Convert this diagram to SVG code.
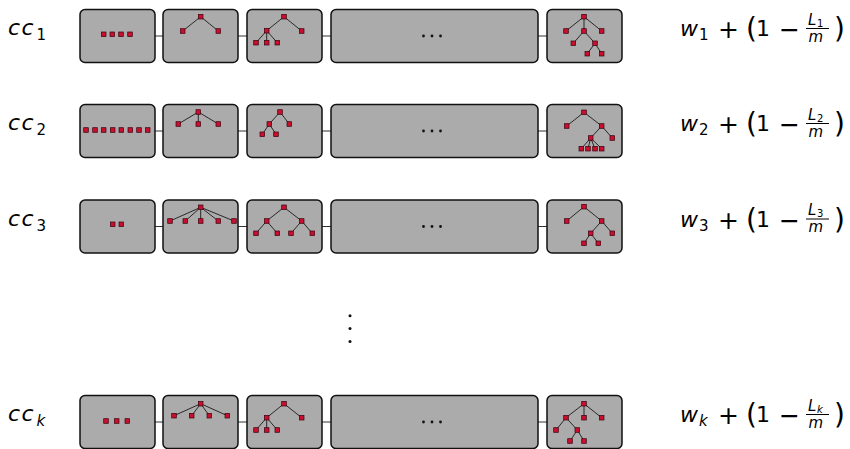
<svg xmlns="http://www.w3.org/2000/svg" xmlns:xlink="http://www.w3.org/1999/xlink" width="850" height="449" viewBox="0 0 850 449">
<style>
.box{fill:#ababab;stroke:#111;stroke-width:1.5}
.con{stroke:#333;stroke-width:1;fill:none}
.tr{stroke:#1a1a1a;stroke-width:0.9;fill:none}
.dot{fill:#111}
.bar{stroke:#000;stroke-width:1}
text{font-family:"DejaVu Sans",sans-serif;fill:#000;font-size:22px}
.it{font-style:italic}
.cc{font-style:italic;letter-spacing:1.5px}
.sb{font-size:15px;font-style:normal;letter-spacing:0}
.op{font-size:25px;font-style:normal}
.pr{font-size:28px;font-style:normal}
.rm{font-style:normal}
.fr{font-size:15px;font-style:italic}
.fs{font-size:10px;font-style:normal}
.fsi{font-size:10px;font-style:italic}
</style>
<defs>
<rect id="nd" x="-2.3" y="-2.3" width="4.6" height="4.6" fill="#c8102e" stroke="#3a0010" stroke-width="0.7"/>
<g id="ell"><circle class="dot" cx="-8.5" cy="0" r="1.4"/><circle class="dot" cx="0" cy="0" r="1.4"/><circle class="dot" cx="8.5" cy="0" r="1.4"/></g>
</defs>

<g id="connectors">
<path class="con" d="M155,36H163M238,36H247M322,36H331M538,36H547"/>
<path class="con" d="M155,131H163M238,131H247M322,131H331M538,131H547"/>
<path class="con" d="M155,226.5H163M238,226.5H247M322,226.5H331M538,226.5H547"/>
<path class="con" d="M155,422H163M238,422H247M322,422H331M538,422H547"/>
</g>

<!-- Row 1 -->
<g id="label1"><text class="cc" x="8" y="35">cc<tspan class="sb" x="36.5" y="40">1</tspan></text></g>
<g id="r1b1"><rect class="box" x="80" y="9.5" width="75" height="53" rx="5"/>
<use xlink:href="#nd" x="103.7" y="34.3"/><use xlink:href="#nd" x="112.3" y="34.3"/><use xlink:href="#nd" x="121" y="34.3"/><use xlink:href="#nd" x="130" y="34.3"/></g>
<g id="r1b2"><rect class="box" x="163" y="9.5" width="75" height="53" rx="5"/>
<path class="tr" d="M200.7,16.7L182.7,31M200.7,16.7L218.3,31"/>
<use xlink:href="#nd" x="200.7" y="16.7"/><use xlink:href="#nd" x="182.7" y="31"/><use xlink:href="#nd" x="218.3" y="31"/></g>
<g id="r1b3"><rect class="box" x="247" y="9.5" width="75" height="53" rx="5"/>
<path class="tr" d="M284,16.7L266.7,30.7M284,16.7L301.7,31M266.7,30.7L256,42.7M266.7,30.7L266.7,42.7M266.7,30.7L277.3,42.7"/>
<use xlink:href="#nd" x="284" y="16.7"/><use xlink:href="#nd" x="266.7" y="30.7"/><use xlink:href="#nd" x="301.7" y="31"/><use xlink:href="#nd" x="256" y="42.7"/><use xlink:href="#nd" x="266.7" y="42.7"/><use xlink:href="#nd" x="277.3" y="42.7"/></g>
<g id="r1b4"><rect class="box" x="331" y="9.5" width="207" height="53" rx="5"/><use xlink:href="#ell" x="432" y="36"/></g>
<g id="r1b5"><rect class="box" x="547" y="9.5" width="75" height="53" rx="5"/>
<path class="tr" d="M584,16.7L566,31M584,16.7L584,31M584,16.7L601.7,31M584,31L573.3,43.3M584,31L595,43.3M595,43.3L587.3,53.7M595,43.3L601.7,53.7"/>
<use xlink:href="#nd" x="584" y="16.7"/><use xlink:href="#nd" x="566" y="31"/><use xlink:href="#nd" x="584" y="31"/><use xlink:href="#nd" x="601.7" y="31"/><use xlink:href="#nd" x="573.3" y="43.3"/><use xlink:href="#nd" x="595" y="43.3"/><use xlink:href="#nd" x="587.3" y="53.7"/><use xlink:href="#nd" x="601.7" y="53.7"/></g>
<g id="formula1">
<text class="it" x="680" y="36">w<tspan class="sb" x="699" y="40">1</tspan><tspan class="op" x="718" y="38">+</tspan><tspan class="pr" x="746" y="38">(</tspan><tspan class="rm" x="756" y="36">1</tspan><tspan class="op" x="779" y="38">−</tspan><tspan class="fr" x="808" y="24.5">L</tspan><tspan class="fs" x="817" y="26.5">1</tspan><tspan class="fr" x="808.5" y="41.5">m</tspan><tspan class="pr" x="834" y="38">)</tspan></text>
<line class="bar" x1="806" y1="28.5" x2="829" y2="28.5"/>
</g>

<!-- Row 2 -->
<g id="label2"><text class="cc" x="8" y="130">cc<tspan class="sb" x="36.5" y="135">2</tspan></text></g>
<g id="r2b1"><rect class="box" x="80" y="104.5" width="75" height="53" rx="5"/>
<use xlink:href="#nd" x="86" y="130"/><use xlink:href="#nd" x="95" y="130"/><use xlink:href="#nd" x="103.7" y="130"/><use xlink:href="#nd" x="112.7" y="130"/><use xlink:href="#nd" x="121.3" y="130"/><use xlink:href="#nd" x="130.3" y="130"/><use xlink:href="#nd" x="139" y="130"/><use xlink:href="#nd" x="147.7" y="130"/></g>
<g id="r2b2"><rect class="box" x="163" y="104.5" width="75" height="53" rx="5"/>
<path class="tr" d="M198.3,112L178.3,124M198.3,112L198.3,124M198.3,112L218.3,124"/>
<use xlink:href="#nd" x="198.3" y="112"/><use xlink:href="#nd" x="178.3" y="124"/><use xlink:href="#nd" x="198.3" y="124"/><use xlink:href="#nd" x="218.3" y="124"/></g>
<g id="r2b3"><rect class="box" x="247" y="104.5" width="75" height="53" rx="5"/>
<path class="tr" d="M280,112L269.3,124M280,112L289.3,124M269.3,124L262.3,134.3M269.3,124L276,134.3"/>
<use xlink:href="#nd" x="280" y="112"/><use xlink:href="#nd" x="269.3" y="124"/><use xlink:href="#nd" x="289.3" y="124"/><use xlink:href="#nd" x="262.3" y="134.3"/><use xlink:href="#nd" x="276" y="134.3"/></g>
<g id="r2b4"><rect class="box" x="331" y="104.5" width="207" height="53" rx="5"/><use xlink:href="#ell" x="432" y="131"/></g>
<g id="r2b5"><rect class="box" x="547" y="104.5" width="75" height="53" rx="5"/>
<path class="tr" d="M584,112.3L566.7,126M584,112.3L601.7,126M601.7,126L590.7,138M601.7,126L612.3,138M590.7,138L581.3,148.7M590.7,138L588,148.7M590.7,138L595,148.7M590.7,138L601.7,148.7"/>
<use xlink:href="#nd" x="584" y="112.3"/><use xlink:href="#nd" x="566.7" y="126"/><use xlink:href="#nd" x="601.7" y="126"/><use xlink:href="#nd" x="590.7" y="138"/><use xlink:href="#nd" x="612.3" y="138"/><use xlink:href="#nd" x="581.3" y="148.7"/><use xlink:href="#nd" x="588" y="148.7"/><use xlink:href="#nd" x="595" y="148.7"/><use xlink:href="#nd" x="601.7" y="148.7"/></g>
<g id="formula2">
<text class="it" x="680" y="131">w<tspan class="sb" x="699" y="135">2</tspan><tspan class="op" x="718" y="133">+</tspan><tspan class="pr" x="746" y="133">(</tspan><tspan class="rm" x="756" y="131">1</tspan><tspan class="op" x="779" y="133">−</tspan><tspan class="fr" x="808" y="119.5">L</tspan><tspan class="fs" x="817" y="121.5">2</tspan><tspan class="fr" x="808.5" y="136.5">m</tspan><tspan class="pr" x="834" y="133">)</tspan></text>
<line class="bar" x1="806" y1="123.5" x2="829" y2="123.5"/>
</g>

<!-- Row 3 -->
<g id="label3"><text class="cc" x="8" y="225.5">cc<tspan class="sb" x="36.5" y="230.5">3</tspan></text></g>
<g id="r3b1"><rect class="box" x="80" y="200" width="75" height="53" rx="5"/>
<use xlink:href="#nd" x="112.7" y="224.3"/><use xlink:href="#nd" x="121.3" y="224.3"/></g>
<g id="r3b2"><rect class="box" x="163" y="200" width="75" height="53" rx="5"/>
<path class="tr" d="M200.7,207.3L170,221M200.7,207.3L185.3,221M200.7,207.3L200.7,221M200.7,207.3L218.3,221M200.7,207.3L234,221"/>
<use xlink:href="#nd" x="200.7" y="207.3"/><use xlink:href="#nd" x="170" y="221"/><use xlink:href="#nd" x="185.3" y="221"/><use xlink:href="#nd" x="200.7" y="221"/><use xlink:href="#nd" x="218.3" y="221"/><use xlink:href="#nd" x="234" y="221"/></g>
<g id="r3b3"><rect class="box" x="247" y="200" width="75" height="53" rx="5"/>
<path class="tr" d="M284,207.3L266.7,221M284,207.3L301.7,221M266.7,221L256,233.3M266.7,221L277.3,233.3M301.7,221L291,233.3M301.7,221L312.3,233.3"/>
<use xlink:href="#nd" x="284" y="207.3"/><use xlink:href="#nd" x="266.7" y="221"/><use xlink:href="#nd" x="301.7" y="221"/><use xlink:href="#nd" x="256" y="233.3"/><use xlink:href="#nd" x="277.3" y="233.3"/><use xlink:href="#nd" x="291" y="233.3"/><use xlink:href="#nd" x="312.3" y="233.3"/></g>
<g id="r3b4"><rect class="box" x="331" y="200" width="207" height="53" rx="5"/><use xlink:href="#ell" x="432" y="226.5"/></g>
<g id="r3b5"><rect class="box" x="547" y="200" width="75" height="53" rx="5"/>
<path class="tr" d="M584,206.7L566.7,221M584,206.7L601.7,221M601.7,221L590.7,233.3M601.7,221L612.3,233.3M590.7,233.3L584,243.3M590.7,233.3L598.3,243.3"/>
<use xlink:href="#nd" x="584" y="206.7"/><use xlink:href="#nd" x="566.7" y="221"/><use xlink:href="#nd" x="601.7" y="221"/><use xlink:href="#nd" x="590.7" y="233.3"/><use xlink:href="#nd" x="612.3" y="233.3"/><use xlink:href="#nd" x="584" y="243.3"/><use xlink:href="#nd" x="598.3" y="243.3"/></g>
<g id="formula3">
<text class="it" x="680" y="226.5">w<tspan class="sb" x="699" y="230.5">3</tspan><tspan class="op" x="718" y="228.5">+</tspan><tspan class="pr" x="746" y="228.5">(</tspan><tspan class="rm" x="756" y="226.5">1</tspan><tspan class="op" x="779" y="228.5">−</tspan><tspan class="fr" x="808" y="215">L</tspan><tspan class="fs" x="817" y="217">3</tspan><tspan class="fr" x="808.5" y="232">m</tspan><tspan class="pr" x="834" y="228.5">)</tspan></text>
<line class="bar" x1="806" y1="219" x2="829" y2="219"/>
</g>

<!-- vertical dots -->
<g id="vdots"><circle class="dot" cx="350" cy="315.7" r="1.5"/><circle class="dot" cx="350" cy="328.5" r="1.5"/><circle class="dot" cx="350" cy="341.5" r="1.5"/></g>

<!-- Row k -->
<g id="labelk"><text class="cc" x="8" y="421">cc<tspan class="sb" x="36.5" y="426" style="font-style:italic">k</tspan></text></g>
<g id="rkb1"><rect class="box" x="80" y="395.5" width="75" height="53" rx="5"/>
<use xlink:href="#nd" x="106" y="421"/><use xlink:href="#nd" x="116.7" y="421"/><use xlink:href="#nd" x="127.3" y="421"/></g>
<g id="rkb2"><rect class="box" x="163" y="395.5" width="75" height="53" rx="5"/>
<path class="tr" d="M200.7,403.7L174,415.7M200.7,403.7L191.7,415.7M200.7,403.7L209.3,415.7M200.7,403.7L227.3,415.7"/>
<use xlink:href="#nd" x="200.7" y="403.7"/><use xlink:href="#nd" x="174" y="415.7"/><use xlink:href="#nd" x="191.7" y="415.7"/><use xlink:href="#nd" x="209.3" y="415.7"/><use xlink:href="#nd" x="227.3" y="415.7"/></g>
<g id="rkb3"><rect class="box" x="247" y="395.5" width="75" height="53" rx="5"/>
<path class="tr" d="M284,403.7L266.7,417.7M284,403.7L301.7,417.7M266.7,417.7L256,430M266.7,417.7L266.7,430M266.7,417.7L277.3,430"/>
<use xlink:href="#nd" x="284" y="403.7"/><use xlink:href="#nd" x="266.7" y="417.7"/><use xlink:href="#nd" x="301.7" y="417.7"/><use xlink:href="#nd" x="256" y="430"/><use xlink:href="#nd" x="266.7" y="430"/><use xlink:href="#nd" x="277.3" y="430"/></g>
<g id="rkb4"><rect class="box" x="331" y="395.5" width="207" height="53" rx="5"/><use xlink:href="#ell" x="432" y="422"/></g>
<g id="rkb5"><rect class="box" x="547" y="395.5" width="75" height="53" rx="5"/>
<path class="tr" d="M584,403.7L566,417.7M584,403.7L584,417.7M584,403.7L601.7,417.7M566,417.7L556,430M566,417.7L577.3,430M577.3,430L570,441M577.3,430L584,441"/>
<use xlink:href="#nd" x="584" y="403.7"/><use xlink:href="#nd" x="566" y="417.7"/><use xlink:href="#nd" x="584" y="417.7"/><use xlink:href="#nd" x="601.7" y="417.7"/><use xlink:href="#nd" x="556" y="430"/><use xlink:href="#nd" x="577.3" y="430"/><use xlink:href="#nd" x="570" y="441"/><use xlink:href="#nd" x="584" y="441"/></g>
<g id="formulak">
<text class="it" x="680" y="422">w<tspan class="sb" x="699" y="426" style="font-style:italic">k</tspan><tspan class="op" x="718" y="424">+</tspan><tspan class="pr" x="746" y="424">(</tspan><tspan class="rm" x="756" y="422">1</tspan><tspan class="op" x="779" y="424">−</tspan><tspan class="fr" x="808" y="410.5">L</tspan><tspan class="fsi" x="817" y="412.5">k</tspan><tspan class="fr" x="808.5" y="427.5">m</tspan><tspan class="pr" x="834" y="424">)</tspan></text>
<line class="bar" x1="806" y1="414.5" x2="829" y2="414.5"/>
</g>
</svg>
